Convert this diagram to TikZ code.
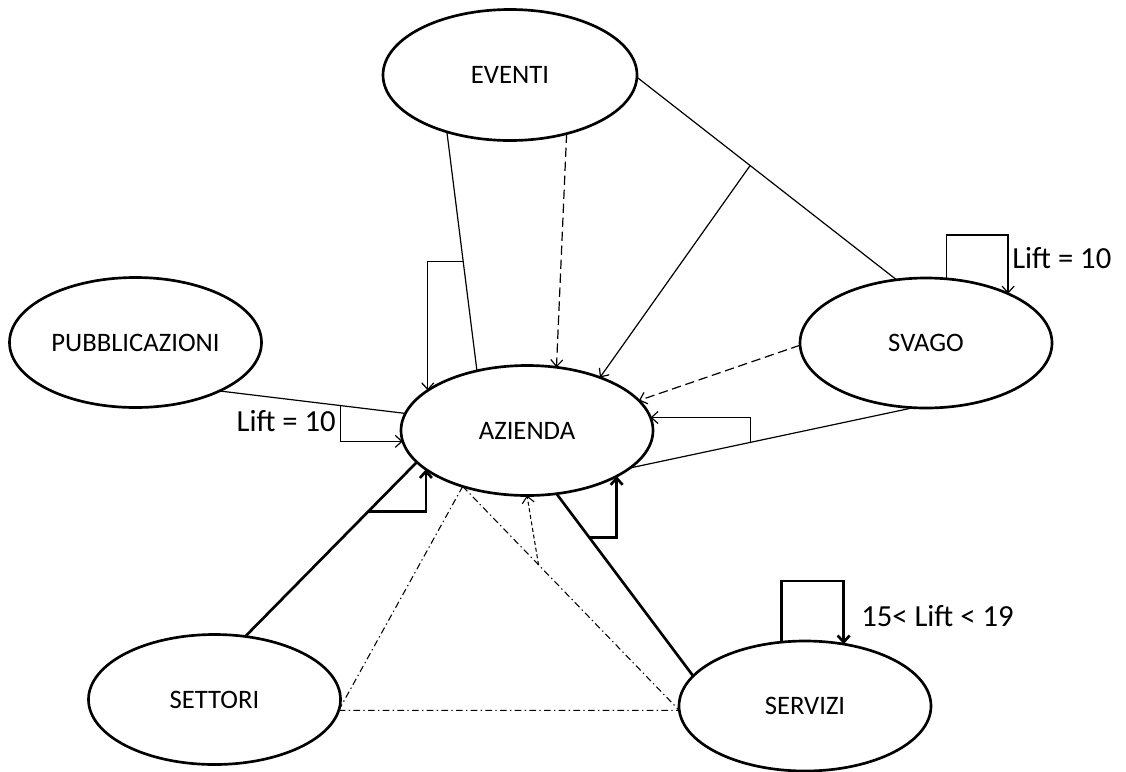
\documentclass[tikz,border=0pt]{standalone}
\usepackage{fontspec}
\setmainfont{Carlito}
\usetikzlibrary{shapes.geometric,arrows.meta,calc}
\begin{document}
\begin{tikzpicture}[x=0.75pt,y=-0.75pt,
  ent/.style={ellipse,draw,line width=2pt,minimum width=189pt,minimum height=97.5pt,
    inner sep=0pt,outer sep=0pt,font=\fontsize{20}{24}\selectfont},
  link/.style={line width=0.9pt},
  heavy/.style={line width=2pt},
  arr/.style={-{Straight Barb[length=5pt,width=9pt]}},
  dashlink/.style={link,dash pattern=on 7pt off 3.5pt},
  dashdotline/.style={line width=0.8pt,dash pattern=on 5pt off 2.5pt on 1pt off 2.5pt},
  fineDash/.style={line width=0.8pt,dash pattern=on 3pt off 2pt},
  lbl/.style={font=\fontsize{23}{28}\selectfont,inner sep=0pt}]
\useasboundingbox (0,0) rectangle (1126,771);

% entities
\node[ent,minimum width=190.5pt,minimum height=98.25pt] (EV) at (510,75) {EVENTI};
\node[ent] (PU) at (135.5,342.5) {PUBBLICAZIONI};
\node[ent] (AZ) at (527,430.5) {AZIENDA};
\node[ent] (SV) at (926,343) {SVAGO};
\node[ent] (SE) at (214.5,699.5) {SETTORI};
\node[ent] (SR) at (805,706) {SERVIZI};

% EVENTI -> AZIENDA
\draw[link] (EV.222) -- coordinate[pos=0.544] (e1) (AZ.130);
\draw[link,arr] (e1) -| (AZ.158.6);
\draw[dashlink,arr] (EV.314) -- (AZ.65);

% EVENTI -- SVAGO, with branch to AZIENDA
\draw[link] (EV.359) -- coordinate[pos=0.436] (e3) (SV.115);
\draw[link,arr] (e3) -- (AZ.36);

% SVAGO -> AZIENDA
\draw[dashlink,arr] (SV.181) -- (AZ.15);
\draw[link] (SV.259) -- coordinate[pos=0.576] (e5) (AZ.340);
\draw[link,arr] (e5) |- (AZ.6.25);

% PUBBLICAZIONI -> AZIENDA
\draw[link] (PU.330) -- coordinate[pos=0.649] (e6) (AZ.172);
\draw[link,arr] (e6) |- (AZ.185.8);
\node[lbl,anchor=east] (L1) at (336,421) {Lift = 10};

% SETTORI -> AZIENDA
\draw[heavy] (SE.64) -- coordinate[pos=0.715] (e7) (AZ.196);
\draw[heavy,arr] (e7) -| (AZ.201.4);

% SERVIZI -> AZIENDA
\draw[heavy] (SR.165) -- coordinate[pos=0.758] (e8) (AZ.295);
\draw[heavy,arr] (e8) -| (AZ.333);

% triangle AZIENDA - SETTORI - SERVIZI
\draw[dashdotline] (SE.355) -- (SR.182);
\draw[dashdotline] (SE.355) -- (AZ.221);
\draw[dashdotline] (AZ.221) -- coordinate[pos=0.35] (e9) (SR.182);
\draw[fineDash,arr] (e9) -- (AZ.270);

% self loops
\draw[link,arr] (SV.72) -- ++(0,-44) -| (SV.31);
\node[lbl,anchor=west] (L2) at (1012,258) {Lift = 10};
\draw[heavy,arr] (SR.110) -- ++(0,-61) -| (SR.58);
\node[lbl,anchor=west] (L3) at (861,616) {15< Lift < 19};
\end{tikzpicture}
\end{document}
